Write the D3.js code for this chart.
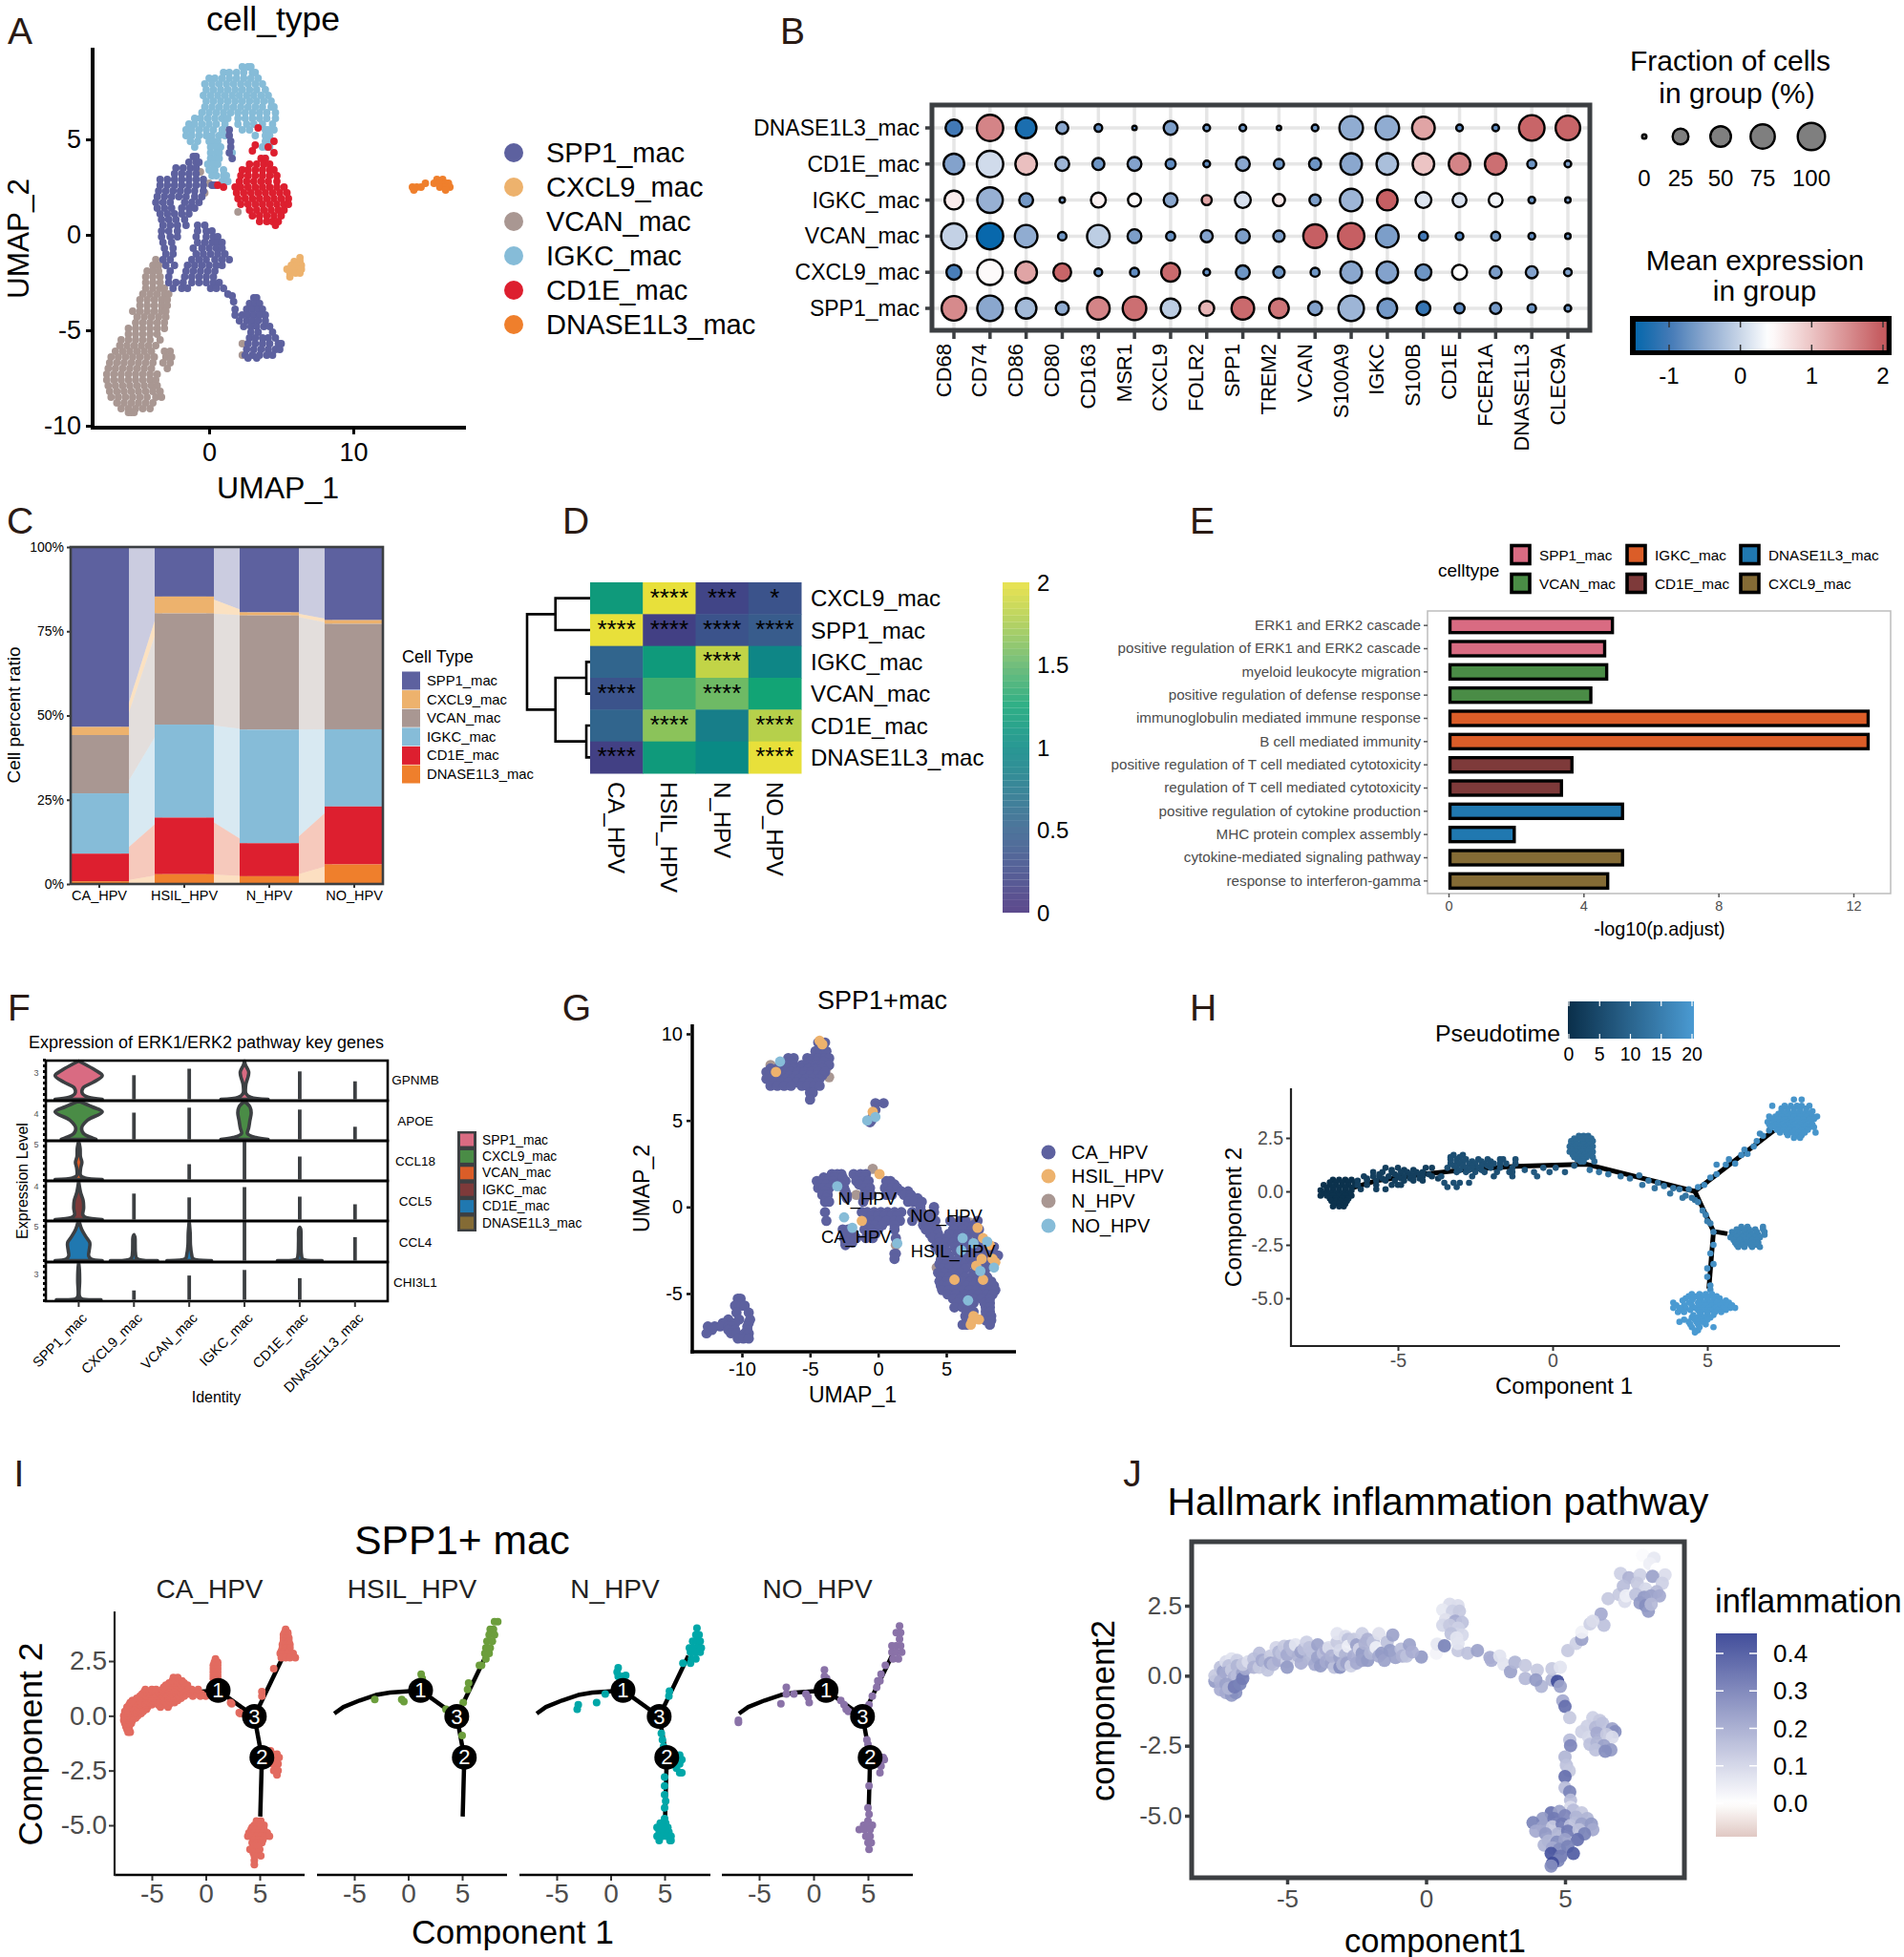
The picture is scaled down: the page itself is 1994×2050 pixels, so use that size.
<!DOCTYPE html>
<html><head><meta charset="utf-8">
<script src="https://cdn.jsdelivr.net/npm/d3@7"></script>
<style>html,body{margin:0;padding:0;background:#fff}svg{display:block}text{font-family:"Liberation Sans",Arial,sans-serif}</style>
</head><body><svg id="c" width="1994" height="2050" viewBox="0 0 1994 2050"></svg>
<script>
// ===== shared categories =====
const macTypes=["SPP1_mac","CXCL9_mac","VCAN_mac","IGKC_mac","CD1E_mac","DNASE1L3_mac"];
const macColors=["#5d619f","#edb26d","#a99792","#86bcd8","#dd1f2f","#ef7f2c"];
const flowColors=["#5d619f","#f2a23e","#a99792","#86bcd8","#e4562f","#f59a3e"];
const hpvGroups=["CA_HPV","HSIL_HPV","N_HPV","NO_HPV"];
// ===== panel A: rows are [UMAP_2, UMAP_1, UMAP_1, ...] =====
const aVCAN=[[-1.3,-3.7],[-1.6,-3.9,-3.5],[-1.9,-4.3,-3.9,-3.5],[-2.2,-4.4,-3.9,-3.4],[-2.5,-4.4,-3.9,-3.4],[-2.8,-4.4,-3.9,-3.4,-3.1],[-3.1,-4.6,-4.1,-3.6,-3.1,-2.8],[-3.4,-4.8,-4.3,-3.8,-3.3,-2.9],[-3.7,-4.8,-4.3,-3.8,-3.3,-2.9],[-4,-5.3,-4.8,-4.3,-3.8,-3.3,-3],[-4.3,-5,-4.5,-4,-3.5,-3],[-4.6,-5.1,-4.6,-4.1,-3.6,-3.1],[-4.9,-5.6,-5.1,-4.6,-4.1,-3.6,-3.1],[-5.2,-5.6,-5.1,-4.6,-4.1,-3.6],[-5.5,-6.1,-5.6,-5.1,-4.6,-4.1,-3.4],[-5.8,-6.2,-5.7,-5.2,-4.7,-4.2,-3.7],[-6.1,-6.5,-6,-5.5,-5,-4.5,-4,-3.1,-2.7],[-6.4,-6.8,-6.3,-5.8,-5.3,-4.8,-4.3,-3.8,-3,-2.6],[-6.7,-6.9,-6.4,-5.9,-5.4,-4.9,-4.4,-3.9,-3.2,-2.7],[-7,-7,-6.5,-6,-5.5,-5,-4.5,-4,-2.9],[-7.3,-7.1,-6.6,-6.1,-5.6,-5.1,-4.6,-4.1,-3.6],[-7.6,-7.1,-6.6,-6.1,-5.6,-5.1,-4.6,-4.1,-3.7],[-7.9,-7,-6.5,-6,-5.5,-5,-4.5,-4,-3.6],[-8.2,-6.9,-6.4,-5.9,-5.4,-4.9,-4.4,-3.9,-3.4],[-8.5,-6.8,-6.3,-5.8,-5.3,-4.8,-4.3,-3.7,-3.3],[-8.8,-6.4,-5.9,-5.4,-4.9,-4.4,-3.9],[-9.1,-6.1,-5.6,-5.1,-4.6,-4.1],[-9.3,-5.6,-5.4,-5.2],[2.2,-.3],[2.7,0],[3.3,-.6],[1.2,2],[-5.7,2.3],[-6.3,2.3]];
const aIGKC=[[8.8,2.3,2.7,2.9],[8.5,1,1.4,1.9,2.4,3,3.2],[8.2,0,.4,.9,1.4,1.9,2.4,2.9,3.4],[7.9,-.3,.2,.7,1.2,1.7,2.2,2.7,3.2,3.7],[7.6,-.2,.3,.8,1.3,1.8,2.3,2.8,3.3,3.9],[7.3,-.4,.1,.6,1.1,1.6,2.1,2.6,3.1,3.6,4.1],[7,-.2,.3,.8,1.3,1.8,2.3,2.8,3.3,3.8,4.3],[6.7,-.3,.2,.7,1.2,1.7,2.2,2.7,3.2,3.7,4.3,4.5],[6.4,-.5,0,.5,1,1.5,2,2.5,3,3.5,4,4.6],[6.1,-1,-.6,-.1,.4,.9,1.3,2,2.5,3,3.5,4,4.6],[5.8,-1.4,-1,-.5,0,.5,1.1,2,2.6,3.1,3.7,4.4],[5.5,-1.6,-1.2,-.7,-.2,.3,.9,2.3,2.8,3.9,4.1,4.5],[5.2,-1.6,-1.2,-.7,-.2,.2,.7,1.1,3.2,3.9,4.2],[4.9,-1.3,-.8,0,.3,.6,3.9,4.2],[4.6,-1,.1,.5,.8,3.7,4,4.2],[4.3,.1,.5,.7,1.6],[4,.1,.4,.7,3.9],[3.7,-.1,.3,.6],[3.4,0,.4,1],[3.1,.2,.5,1,1.2],[2.8,.9,1.2,1.3]];
const aSPP1=[[5.5,1.4],[5.2,1.4],[4.9,1.5],[4.6,1.5],[4.3,1.4],[4,1.6],[4.1,-1.1,-.9],[3.8,-1.4,-.9,-.7],[3.5,-2.3,-1.8,-1.3,-.9],[3.2,-2.4,-1.9,-1.4,-.9],[2.9,-3.4,-2.9,-2.4,-1.9,-1.4,-.9,-.4],[2.6,-3.4,-2.9,-2.4,-1.9,-1.4,-.9,-.4,.2,.4],[2.3,-3.5,-3,-2.5,-2,-1.5,-1,-.4],[2,-3.6,-3.1,-2.6,-2.1,-1.6,-1,-.5],[1.7,-3.7,-3.2,-2.7,-1.7,-1.2,-.7],[1.4,-3.6,-3.1,-2.6,-1.9,-1.4,-1],[1.1,-3.4,-2.9,-2.4,-1.9,-1.4],[.8,-3.3,-2.8,-2.3,-1.7],[.5,-3.2,-2.7,-2.2,-1.6,-.8,-.3],[.2,-3.3,-2.8,-2.2,-.8,-.2,.2],[-.1,-3.3,-2.7,-2.2,-.9,-.2,.3,.6],[-.4,-3.2,-2.6,-.8,-.3,.2,.6,.9],[-.7,-3.1,-2.5,-1.1,-.5,0,.5,.9],[-1,-3,-2.5,-.9,-.4,.1,.6,1.1],[-1.3,-3.2,-2.7,-1.2,-.7,-.2,.4,.9,1.4],[-1.6,-3,-2.4,-1.5,-1,-.5,0,.5,.9],[-1.9,-2.7,-1.6,-1.1,-.6,-.1,.4],[-2.2,-2.8,-1.7,-1.2,-.7,-.2,.3],[-2.5,-2.8,-2.3,-1.8,-1.2,-.7,-.2,.3,.7],[-2.8,-2.5,-1.9,-1.5,.1,.5,1],[-3.1,1.3],[-3.2,1.6],[-3.5,1.7],[-3.3,3.1,3.3],[-3.6,2.8,3.2,3.5],[-3.9,1.8,2.6,3,3.4,3.7],[-4.2,1.8,2.3,2.7,3.1,3.5,3.9],[-4.5,2.1,2.6,3,3.4,3.9],[-4.8,2.4,2.9,3.3,3.8,4.2],[-5.1,2.9,3.4,4.4],[-5.4,2.8,3.2,3.7,4.1,4.6],[-5.7,2.7,3.2,3.7,4.2,4.8,5],[-6,2.6,3.1,3.6,4.1,4.6,4.9],[-6.3,2.5,3,3.5,4,4.4],[-6.45,2.7,3.3]];
const aCD1E=[[4,3.6,3.9],[3.7,2.8,3.3,3.8,4.2],[3.4,2.3,2.7,3.2,3.7,4.2,4.5],[3.1,2.2,2.7,3.2,3.7,4.2,4.7],[2.8,2.1,2.6,3.1,3.6,4.1,4.7],[2.5,1.8,2.2,2.7,3.2,3.7,4.2,4.7,5.2],[2.2,1.9,2.4,2.9,3.4,3.9,4.4,4.9,5.4],[1.9,2,2.5,3,3.5,4,4.5,5,5.5],[1.6,2.2,2.7,3.2,3.7,4.2,4.7,5.2,5.5],[1.3,2.8,3.3,3.8,4.3,4.8,5.2],[1,3,3.5,4,4.5,5],[.7,3.5,4,4.4,4.8],[.5,4.6],[2.5,1],[2.6,.6],[5.6,3.4],[4.4,3],[4.7,3.2],[4.9,4.5],[4.3,4.5],[4.6,4.1]];
const aCXCL9=[[-1.2,6.3],[-1.4,5.9,6.3],[-1.6,5.7,6.1,6.4],[-1.8,5.4,5.8,6.2,6.4],[-2,5.6,6,6.3],[-2.2,5.6]];
const aDNASE=[[2.9,15.8,16.2],[2.7,15,15.6,16,16.4,16.6],[2.5,14.1,14.4,14.7,16,16.4,16.7],[2.35,14.2,16.4]];
// ===== panel B =====
const bGenes=["CD68","CD74","CD86","CD80","CD163","MSR1","CXCL9","FOLR2","SPP1","TREM2","VCAN","S100A9","IGKC","S100B","CD1E","FCER1A","DNASE1L3","CLEC9A"];
const bRows=["DNASE1L3_mac","CD1E_mac","IGKC_mac","VCAN_mac","CXCL9_mac","SPP1_mac"];
const bFraction=[
[29,92,50,11,2,0,17,1,1,0,1,70,70,63,1,1,85,77],
[50,92,56,17,11,17,6,1,17,6,11,56,56,56,56,56,4,1],
[39,85,17,.2,21,14,17,6,25,11,9,63,50,25,17,17,1,.2],
[85,92,63,3,63,17,4,11,17,9,70,92,63,4,2,4,1,.2],
[21,85,56,34,2,4,39,1,17,9,4,56,56,25,21,11,11,2],
[77,85,50,14,63,70,44,21,63,44,17,85,44,17,6,9,3,1]];
const bExpr=[
[-1,1.6,-1.3,-.5,-.8,-.8,-.6,-.7,-.7,-.7,-.7,-.45,-.45,1.3,-.8,-.8,1.9,1.9],
[-.55,.05,1.05,-.35,-.7,-.55,-.8,-.8,-.5,-.7,-.7,-.5,-.25,1,1.6,1.8,-.7,-.6],
[.6,-.4,-.65,-.6,.55,.45,-.5,1.3,.1,.65,-.6,-.35,1.95,.15,.1,.3,-.7,-.6],
[-.05,-1.45,-.45,-.7,-.1,-.6,-.75,-.55,-.6,-.6,1.95,1.95,-.6,-1,-.9,-.7,-.8,-.7],
[-.95,.45,1.3,1.9,-.8,-.8,1.85,-.8,-.7,-.7,-.7,-.5,-.55,-.7,.4,-.6,-.55,-.6],
[1.55,-.5,-.3,-.45,1.6,1.8,-.1,1.15,1.85,1.75,-.55,-.35,-.65,-1.1,-.8,-.65,-.7,-.7]];
const bSizeLegend=[0,25,50,75,100];
const bColorTicks=[-1,0,1,2];
// ===== panel C =====
const cShares=[[53.4,14.7,19.4,21.7],[2.4,5,.9,1.1],[17.3,33,33.9,31.3],[17.9,27.6,33.7,22.9],[8.2,16.8,9.8,17.2],[.8,2.9,2.3,5.8]];
// ===== panel D =====
const dRows=["CXCL9_mac","SPP1_mac","IGKC_mac","VCAN_mac","CD1E_mac","DNASE1L3_mac"];
const dValues=[[1.15,2,.2,.35],[2,.15,.35,.45],[.55,1.15,1.85,.95],[.35,1.4,1.55,1.25],[.55,1.65,.85,1.8],[.15,1.15,1,2]];
const dStars=[["","****","***","*"],["****","****","****","****"],["","","****",""],["****","","****",""],["","****","","****"],["****","","","****"]];
const dTree=[1,[.55,0,1],[.55,[.06,2,3],[.06,4,5]]];
const dTicks=[0,.5,1,1.5,2];
// ===== panel E =====
const eTerms=["ERK1 and ERK2 cascade","positive regulation of ERK1 and ERK2 cascade","myeloid leukocyte migration","positive regulation of defense response","immunoglobulin mediated immune response","B cell mediated immunity","positive regulation of T cell mediated cytotoxicity","regulation of T cell mediated cytotoxicity","positive regulation of cytokine production","MHC protein complex assembly","cytokine-mediated signaling pathway","response to interferon-gamma"];
const eValues=[4.9,4.67,4.73,4.26,12.48,12.48,3.7,3.39,5.2,1.99,5.2,4.76];
const eGroup=["SPP1_mac","SPP1_mac","VCAN_mac","VCAN_mac","IGKC_mac","IGKC_mac","CD1E_mac","CD1E_mac","DNASE1L3_mac","DNASE1L3_mac","CXCL9_mac","CXCL9_mac"];
const eLegendOrder=["SPP1_mac","VCAN_mac","IGKC_mac","CD1E_mac","DNASE1L3_mac","CXCL9_mac"];
const eColors={SPP1_mac:"#d96b82",VCAN_mac:"#4a8c46",IGKC_mac:"#db5d28",CD1E_mac:"#7e3a3a",DNASE1L3_mac:"#2078b0",CXCL9_mac:"#846b35"};
// ===== panel F: number = line height, array = violin profile [height, half width], null = empty =====
const fGenes=["GPNMB","APOE","CCL18","CCL5","CCL4","CHI3L1"];
const fTickLabels=["3","4","5","4","5","3"];
const fColors=["#d96b82","#4a8c46","#db5d28","#7e3a3a","#2078b0","#846b35"];
const fGPNMB=[[[0,.95],[.05,.4],[.15,.15],[.3,.18],[.45,.6],[.62,.95],[.75,.7],[.9,.3],[1,0]],.63,.8,[[0,.95],[.05,.25],[.15,.06],[.4,.06],[.6,.15],[.72,.17],[.9,.04],[1,0]],.73,.47];
const fAPOE=[[[0,.7],[.05,.5],[.15,.2],[.3,.12],[.5,.35],[.72,.95],[.85,.55],[1,0]],.7,.83,[[0,.95],[.05,.45],[.15,.12],[.3,.17],[.5,.22],[.7,.27],[.85,.22],[1,0]],.78,.33];
const fCCL18=[[[0,.95],[.04,.25],[.1,.08],[.3,.08],[.45,.13],[.6,.07],[.8,.06],[.95,.02]],null,.4,1,.6,null];
const fCCL5=[[[0,.95],[.05,.3],[.12,.17],[.3,.2],[.5,.18],[.7,.08],[1,0]],.68,.58,.85,.6,.4];
const fCCL4=[[[0,.95],[.04,.5],[.12,.4],[.25,.42],[.45,.45],[.6,.3],[.8,.12],[1,.02]],[[0,.95],[.05,.12],[.2,.06],[.4,.05],[.6,.04],[.66,0]],[[0,.9],[.05,.15],[.15,.1],[.4,.05],[.7,.04],[1,0]],1,[[0,.9],[.04,.12],[.15,.07],[.5,.05],[.8,.04],[.85,0]],.6];
const fCHI3L1=[[[0,.9],[.03,.1],[.1,.03],[.5,.04],[.8,.03],[1,0]],.25,.65,.8,.58,null];
// ===== panel G =====
const gColors=["#5d619f","#edb26d","#a99792","#86bcd8"];
const gCA=[[9.5,-4.4,-4.1,-3.9],[9,-4.6,-4.2,-3.8],[8.6,-6.6,-6.2,-5.2,-4.8,-4.4,-3.9,-3.6],[8.4,-6.4,-5,-4.5,-4],[8.2,-7,-6.6,-6.2,-5.6,-5.1,-4.6,-4.1,-3.6],[8,-7.9,-7.4,-6.7,-6.2,-5.6,-5.1,-4.6,-4.1],[7.8,-8.2,-7.7,-6.9,-6.4,-5.9,-5.4,-4.9,-4.4,-3.9],[7.6,-8,-7.5,-7,-6.5,-6,-5.5,-5,-4.5,-4.1],[7.4,-8.2,-7.8,-7.3,-6.8,-6.3,-5.8,-5.3,-4.8,-4.3],[7.2,-7.7,-7.1,-6.6,-6,-5.5,-5,-4.5],[7,-7.9,-7.4,-6.9,-6.4,-5.6,-5.2,-4.7,-4.3],[6.6,-5,-4.8],[6.2,-5],[6,-.2,.4],[5.6,-.2],[5.2,-.4],[5,-.5],[4.9,-.6],
[1.9,-3.4,-3,-2.7,-1.8,-1.3,-.9],[1.7,-4,-3.6,-3.2,-2.6,-1.4,-1],[1.5,-4.5,-4.1,-3.7,-3.3,-2.4,-1.6,-1.1,-.7,.6,.9],[1.3,-4.2,-3.8,-3.3,-2.7,-1.4,-.8,.7,1.2],[1.1,-4.4,-4,-3.6,-2.5,-1,-.6,.5,1,1.4],[.9,-3.9,-2.4,-.8,.8,1.7,2.2],[.7,-4.1,-3.7,-2.3,-1,-.5,.6,1,1.9,2.4],[.5,-3.8,-2.3,-1,2.4,2.9],[.3,-3.9,-3.6,-1.1,2.2,2.6,3.2],[0,3.1,4.1],[-.3,-3.9,-1.2,-.8,-.3,.2,.7,1.2,1.7,2.5,3.2,4.1],[-.5,-1,-.5,0,.5,1,1.4,2.9,3.6],[-.8,-3.8,-1,-.5,0,.6,1.2,1.6,2.5,3.3,4.2,5.3,6,6.4,7.3],[-1.05,-.7,-.2,.3,1.2,3.3,3.9,5.6,6.3,7],[-1.3,-2.6,-2.2,-1,-.5,0,1.2,3.5,4.3,5.5,6.2,6.9,7.4],[-1.55,-2.4,-1.8,-.7,-.2,3.8,4.4,5.2,5.9,6.6,7.2],[-1.8,-2.5,-2,-1.6,-.9,-.4,1.3,4,4.5,5,5.8,6.5],[-2.05,-2.4,-1.9,4.5,5,5.5,6.1,6.7,7.4,8],[-2.2,-2.4],[-2.7,1.2,1.3],[-3,1.2],
[-2.3,4.2,4.8,5.6,6.3,7.1,7.8,8.5],[-2.55,4.5,5,5.8,6.4,7,7.6,8.4],[-2.8,4.7,5.2,6,6.5,7.2,8.1,8.8],[-3.05,4.6,5.2,5.8,6.7,8.2],[-3.3,4.5,5,5.5,6.2,7,7.7,8.4],[-3.55,4.7,5.2,5.8,6.4,7.2,7.9],[-3.8,4.4,4.9,5.5,6,7,7.8],[-4.05,4.6,5.2,5.7,6.4,7,7.5,8],[-4.3,4.5,5,5.5,6.2,6.8,7.2,7.8,8.3],[-4.55,4.6,5.1,5.8,6.5,7,7.5,8,8.5],[-4.8,4.7,5.2,6.2,6.7,7.2,7.7,8.2,8.6],[-5.05,5.1,5.7,6.4,6.9,7.4,8,8.4],[-5.3,5.5,6,6.5,7,7.6,8.2],[-5.55,5.8,6.4,7,7.8,8.2],[-5.8,5.6,6.2,6.6,7.9,8.2],[-6.05,6.5,7,7.9,8.2],[-6.3,6.4,6.8,7.9,8.3],[-6.55,6.5,7.9,8.3],[-6.8,6.2,6.5,8.2],
[-5.3,-10.3,-10.1],[-5.5,-10.2],[-5.7,-10.5,-10,-9.8],[-6.1,-10.4,-9.5],[-6.5,-11,-10.2,-9.4],[-6.7,-11.4,-10.5,-9.5],[-6.9,-12.5,-12,-11.6,-11,-10.7,-9.6],[-7.1,-12.2,-11,-10.5,-9.6],[-7.3,-12.6,-10.8,-10.4,-9.8,-9.5],[-7.6,-10.3,-9.9,-9.5]];
const gHSIL=[[9.6,-4.3],[9.4,-4.1],[7.8,-7.5],[5.5,-.4],[1.9,.1],[-.8,-1.2],[-1.2,7.3],[-1.8,7.7],[-2.2,8.2],[-3,8.4,7.6],[-3.4,7.2],[-3.2,8.6],[-4.2,5.6,7.7],[-6.6,6.9],[-6.3,7],[-6.8,6.8],[-6.5,7.4]];
const gN=[[8,-3.8,-6.2],[7.5,-3.6],[8.2,-7.9],[2.2,-.4],[.8,-2.5],[.7,-1.6],[-.9,6.7],[-1.9,7],[-.8,-.5],[-1.7,-.4],[-2.2,1.3],[-1.8,5.2],[-3.5,4.3]];
const gNO=[[8.4,-7.2],[5,-.8],[5.2,-.2],[1.2,-3],[-.6,-2.5],[-1.2,-1.9],[-2.1,1.4],[-1.8,6.2],[-2.1,7],[-2,8],[-3.5,8.5],[-3.7,7.5],[-5.4,6.6],[-2.5,6.1]];
const gLabels=[["N_HPV",-.8,.48],["NO_HPV",5,-.5],["CA_HPV",-1.6,-1.7],["HSIL_HPV",5.5,-2.55]];
// ===== panel H =====
const hBlobLeft=[[.55,-7.1,-6.9,-6.7,-6.5],[.42,-7.2,-7,-6.8,-6.6,-6.4],[.3,-7.4,-7.2,-7,-6.8,-6.6,-6.35],[.18,-7.3,-7.1,-6.9,-6.7,-6.5],[.05,-7.5,-7.3,-7.1,-6.9,-6.7,-6.5],[-.08,-7.4,-7.2,-7,-6.8,-6.6],[-.2,-7.5,-7.3,-7.1,-6.9,-6.7,-6.5],[-.33,-7.2,-7,-6.8,-6.6],[-.45,-7.15,-7,-6.85,-6.65],[-.58,-7.05,-6.9,-6.7],[-.7,-7.1,-6.9,-6.75]];
const hTrailA=[[1.1,-5.4,-5,-4.1,-3.9],[1,-5.2,-4.8,-4.5],[.9,-5.8,-5.5,-5.2,-4.9,-4.7,-4.4,-4.2],[.8,-5.6,-5.1,-4.6,-4.3,-4],[.7,-6.1,-5.8,-5.6,-5.3,-5,-4.8,-4.5,-4.2,-3.9],[.6,-6,-5.5,-4.9,-4.6,-4.3,-3.7],[.5,-6.3,-6,-5.7,-5.4,-5.1,-4.8,-4.5,-4.2],[.3,-6.3,-6,-5.7,-5.2,-5,-4.9],[.1,-6.2,-5.7,-5.4]];
const hTrailB=[[1.7,-3.2,-2.9],[1.6,-3.3,-3],[1.5,-3.3,-3.1,-2.8,-2.4,-2.1,-1.7,-1.6,-1.2],[1.4,-3.1,-2.9,-2.6,-2.3,-2],[1.3,-3.3,-3,-2.7,-2.5,-2.2,-1.9,-1.7,-1.5,-1.2],[1.2,-3.2,-2.9,-2.6,-2.3,-2.1],[1.1,-3.4,-3.1,-2.8,-2.6,-2.4,-2,-1.7,-1.3],[1,-3,-2.7,-2.3],[.9,-3.1,-2.8,-2.5,-2.2,-1.8,-1.4,-1.3],[.7,-3.6,-2.6,-1.9,-1.3],[.4,-3.5,-3.2,-3,-2.7],[.2,-3.4,-3.1]];
const hTrailC=[[1,-.9],[.9,-.6,-.1,.4],[.7,-.5],[1.1,-.3,.1],[1.2,.7]];
const hBlobTop=[[2.6,.85,1,1.15],[2.48,.7,.9,1.1,1.25],[2.35,.6,.75,.95,1.15,1.3],[2.22,.6,.8,1,1.2],[2.1,.55,.7,.9,1.1,1.3],[1.98,.6,.8,1,1.2],[1.85,.55,.75,.95,1.15,1.3],[1.72,.65,.85,1.05,1.25],[1.6,.7,.9,1.1,1.3],[1.5,.8,1],[1.4,.9,1,1.35]];
const hMid=[[1,1.2],[.9,1.5],[.8,1.8],[.7,2.2],[.6,2.5],[.75,2.8],[.3,2.9],[.5,3.1],[.4,3.4],[.15,3.3,3.9],[.25,3.6],[-.1,3.8],[.1,4.1,4.4],[-.3,4.2,4.5],[-.2,4.3],[-.4,4.6]];
const hArm=[[.2,4.7],[.3,4.9],[.65,5.1],[.8,5.3],[1.25,5.3,5.6],[1.5,5.7],[1.3,5.9],[1.7,6.1],[1.95,6.2],[1.75,6.3],[2.1,6.5],[2.35,6.6],[2.6,6.8],[2.7,6.7],[2.85,7]];
const hBlobRight=[[4.3,7.8,8.05],[4,7.1,7.5,7.7,7.9,8.05,8.3],[3.88,7.4,7.6,7.8,8,8.2],[3.75,7.4,7.6,7.8,8,8.2,8.4],[3.62,7.3,7.5,7.7,7.9,8.1,8.3],[3.5,7,7.2,7.4,7.6,7.8,8,8.2,8.4,8.55],[3.38,7.1,7.3,7.5,7.7,7.9,8.1,8.3,8.45],[3.25,6.95,7.15,7.35,7.55,7.75,7.95,8.15,8.35],[3.12,7,7.2,7.4,7.6,7.8,8,8.2,8.4],[3,7.1,7.3,7.5,7.7,7.9,8.1,8.3,8.45],[2.88,7.25,7.45,7.65,7.85,8.05,8.25],[2.75,7.35,7.55,7.75,7.95,8.15,8.5],[2.62,7.6,7.85,8.05],[2.5,7.8,8]];
const hDown=[[-.5,4.7],[-.9,4.85],[-1.1,4.95],[-1.4,5],[-1.5,5.1],[-1.9,5.2]];
const hBlobMid=[[-1.65,6.1,6.3,6.8],[-1.78,5.95,6.15,6.35,6.55,6.8],[-1.9,5.8,6,6.2,6.4,6.6,6.85],[-2.03,5.85,6.05,6.25,6.45,6.65,6.85],[-2.15,5.75,5.95,6.15,6.35,6.55,6.7],[-2.28,5.85,6.05,6.25,6.45,6.6],[-2.4,5.9,6.1,6.3,6.5,6.65],[-2.5,5.95,6.15,6.4,6.6],[-2.6,6,6.2,6.45,6.7]];
const hLow=[[-2.5,5.2],[-2.9,5.1],[-3.4,5.2],[-3.6,5],[-4,5],[-4.4,5.1],[-4.6,5.1]];
const hBlobBottom=[[-4.8,4.5,4.75,4.95,5.15],[-4.9,4.4,4.65,4.85,5.05,5.3],[-5,4.3,4.55,4.75,5,5.2,5.4],[-5.1,4.2,4.5,4.8,5,5.2,5.4,5.6],[-5.2,3.9,4.4,4.7,4.9,5.1,5.3,5.5,5.7],[-5.33,4,4.25,4.5,4.75,4.95,5.15,5.4,5.6,5.8],[-5.45,3.9,4.1,4.3,4.6,4.85,5.05,5.25,5.5,5.75,5.9],[-5.55,4.15,4.45,4.7,4.9,5.1,5.35,5.6],[-5.65,4.05,4.25,4.75,5,5.25,5.45],[-5.78,4.55,4.8,5,5.2],[-5.9,4.5,4.7,4.9,5.1],[-6,4.25,4.6,4.8,5],[-6.1,4.1,4.4,4.65,4.85],[-6.22,4.45,4.7,4.95],[-6.35,4.5,4.75,5.2],[-6.5,4.6,4.7],[-6.6,4.6]];
const hPseudotime=[.5,3,6,8,11,13,17,19,15,16,18,20];
const hTreeMain=[[-6.5,.15],[-5.7,.5],[-4.2,.8],[-2.9,1],[-1.2,1.17],[1.1,1.27],[4.6,0]];
const hTreeUp=[[4.6,0],[7.15,2.85]];
const hTreeDown=[[4.6,0],[5.2,-1.87],[5.65,-1.98]];
const hTreeLow=[[5.2,-1.87],[5.05,-4.55]];
const hLegendTicks=[0,5,10,15,20];
// ===== panel I =====
const iColors=["#e26b60","#6c9e3c","#00a7a8","#8a72a8"];
const iCA=[[-.75,-7.2,-7],[-.62,-7.3,-7.1],[-.5,-7.4,-7.1],[-.35,-7.5,-7.2,-6.9],[-.2,-7.6,-7.2,-6.8],[-.1,-7.4,-7,-6.5],[0,-7.6,-7.2,-6.7,-6.3],[.1,-7.4,-6.9,-6.4,-6],[.2,-7.5,-7.1,-6.6,-6.1,-5.8],[.3,-7.3,-6.5,-6,-5.5],[.4,-7.3,-6.9,-6.3,-5.8,-5.4,-4.2,-3.5],[.5,-7.1,-6.1,-5.5,-5,-4.4,-3.9,-3.4],[.6,-7,-6.6,-6,-5.6,-5.2,-4.6,-3.7,-3.2,-2.9],[.7,-6.8,-6.2,-5.5,-4.9,-4.4,-3.9,-3.4,-3,-2.6],[.8,-6.4,-5.9,-5.3,-4.8,-4.3,-3.8,-3.3,-2.8,-2.3],[.9,-6.1,-5.5,-5,-4.5,-4,-3.5,-3,-2.5,-2,-1.2,-.5,0],[1,-5.9,-5.2,-4.8,-4.2,-3.7,-3.2,-2.7,-2.2,-1.7,-.8,-.4],[1.1,-5.7,-5.1,-4.4,-3.9,-3.4,-2.9,-2.4,-1.9,-1.5],[1.2,-5.6,-5,-4.6,-4,-3.5,-3,-2.5,-2,-1.3,-.7],[1.3,-3.9,-3.4,-2.9,-2.4,-1.8],[1.4,-3.7,-3.2,-2.7,-2.2,-1.7],[1.5,-3.4,-2.9,-2.4,-2],[1.6,-3.1,-2.7,-2.2],[1.75,-3,-2.6],[2.6,.9],[2.45,.8,1.1],[2.3,.7,1.1],[2.15,.7,1.1],[2,.7,1.1],[1.85,.7,1.1],[1.7,.7,1.1],[1.5,.7],[.6,2.3],[.55,2.4],[.15,3.1],[.1,3.2],[1.1,5.2],[.9,5.2],[2.15,6.3],[3.95,7.4],[3.8,7.3,7.6],[3.7,7.2,7.6],[3.55,7.2,7.7],[3.4,7.2,7.7],[3.25,7.1,7.4,7.8],[3.1,7.1,7.4,7.8],[2.95,7,7.3,7.7],[2.85,6.9,7.2,7.6,8.1],[2.65,7,7.4,7.8,8.3],[-1.6,6],[-1.75,6.2,6.6],[-1.9,6.4,6.8],[-2.05,6.3,6.6],[-2.2,6.2,6.5,6.7],[-2.5,6.3,6.7],[-2.7,6.6],[-4.8,4.7,5.1],[-5,4.5,5,5.4],[-5.1,4.3,4.8,5.2],[-5.2,4.2,4.6,5,5.4],[-5.35,4,4.5,4.9,5.3,5.7],[-5.5,3.9,4.3,4.7,5.1,5.5,5.9],[-5.65,4.5,4.9,5.3],[-5.8,4.3,4.7,5.2],[-6.1,4.1,4.6,5],[-5.95,4.4,4.8],[-6.25,4.4,4.8],[-6.4,4.5,5.1],[-6.6,4.5],[-6.8,4.5]];
const iHSIL=[[4.3,8,8.3],[3.95,7.6,7.9],[3.7,7.5,8],[3.4,7.3,7.8],[3.1,7.2,7.6],[2.85,7.1,7.5],[2.6,7.2],[2.3,6.6,6.8],[1.5,5.6],[1.2,5.5],[.6,5.1],[1.9,1.2],[1.7,1.3],[.75,-3.1,-.6],[.65,-.4],[.3,3.5],[-.9,5]];
const iN=[[4,8],[3.7,7.9,8.2],[3.4,7.6,8,8.3],[3.1,7.3,7.7,8.1,8.4],[2.9,7.4,7.9,8.3],[2.6,7.5,7.9],[2.4,6.7,7.4],[1.13,5.45],[.9,5.4],[2.2,.7],[2,.6],[1.8,.7,1.1],[1.85,1.4],[1.65,.9],[.5,-3],[.3,-3.1],[.6,-1.3],[1,-.5],[-.8,4.7],[-1.1,4.8],[-1.4,4.9],[-1.8,6.4],[-2,6.6],[-2.2,6.4],[-2.4,6.1],[-2.6,6.4,6.6],[-2.8,5],[-3.2,5],[-3.6,5],[-4.2,5],[-3.9,5.1],[-4.7,5],[-4.9,4.6,5.1],[-5.1,4.3,4.8,5.3],[-5.3,4.5,5,5.4],[-5.5,4.3,4.8,5.2,5.6],[-5.7,4.5,5.5,5.6]];
const iNO=[[4.1,7.9],[3.8,7.6,8],[3.5,7.9],[3.2,7.2,7.6,8],[2.9,7.2,7.6,8.1],[2.6,7.3,7.8],[2.3,6.6],[1.9,6.2],[1.6,5.9,6.1],[1.3,5.8],[.9,5.4],[.5,5.1],[2.1,1],[1.8,1],[1.7,1.2],[-.3,-6.9],[-.2,-6.9],[.55,-3],[1.3,-2.5],[1,-2.5,-1.8,-.7],[.85,-.5],[.6,-.4],[.7,2.5],[.5,2.8],[.3,3],[.2,3.2],[-1.1,4.9],[-1.3,5],[-1.9,6.4],[-2,6.5],[-2.3,6.2],[-2.6,6.1],[-3.2,5.1],[-4.2,5],[-4.5,5.1],[-4.8,5],[-5,4.6,5,5.4],[-5.2,4.2,4.7,5.2],[-5.5,4.8,5.2],[-5.8,5,5.3],[-6.1,5.1]];
const iTreeArc=[[-6.85,.1],[-6,.4],[-4.5,.7],[-3,.95],[-1.7,1.06],[1.15,1.16]];
const iTreeMid=[[1.15,1.16],[4.5,-.03],[5.2,-1.9],[5.05,-4.6]];
const iTreeUp=[[4.5,-.03],[7.2,2.74]];
const iNodes=[[1,1.15,1.16],[3,4.5,-.03],[2,5.2,-1.9]];
// ===== panel J: flat triples x, y, inflammation =====
const jLeft=[-7.6,-.2,.22,-7.6,0,.1,-7.4,.3,.12,-7.3,.15,.2,-7.2,.5,.05,-7,.6,.03,-7.1,.35,.12,-6.8,.55,.08,-7.4,-.2,.16,-7.2,.1,.18,-7,.2,.1,-6.8,.35,.15,-7.4,-.5,.17,-7,-.2,.08,-6.9,-.05,.16,-6.8,0,.13,-6.6,.1,.2,-7.2,-.3,.2,-7.2,-.6,.18,-7,-.7,.22,-6.85,-.6,.25,-7.1,-.45,.15,-6.9,-.4,.3,-6.7,-.3,.28,-6.6,-.1,.3,-6.5,.25,.18,-6.6,.4,.1];
const jTrail=[-6.4,.5,.05,-6.2,.6,.12,-6.2,.3,.16,-6,.3,.1,-6,.8,.13,-5.9,.55,.18,-5.8,.5,.15,-5.7,.2,.11,-5.6,.7,.1,-5.6,.45,.2,-5.4,1,.07,-5.5,.4,.14,-5.3,.55,.17,-5.3,.85,.15,-5.2,.8,.12,-5.1,1.05,.1,-5,.5,.08,-5,.75,.18,-5,.3,.22,-4.9,1.05,.15,-4.8,.9,.14,-4.7,1.1,.03,-4.6,.7,.16,-4.5,.45,.17,-4.5,.85,.2,-4.4,.95,.13,-4.3,1.2,.08,-4.2,1,.12,-4.2,.6,.15,-4.1,.85,.12,-4,.4,.18,-3.9,.65,.2,-3.9,1.1,.2,-3.8,.35,.22,-3.7,.8,.13,-3.6,.95,.17,-3.6,.5,.18,-3.5,1,.05,-3.4,.45,.2,-3.3,.3,.12,-3.4,.7,.16,-3.2,1.2,.1,-3.1,.3,.25,-3.1,.65,.2,-3.1,.9,.06,-3,.4,.15,-3.2,1.5,.03,-2.9,.75,.15,-2.9,1.4,.05,-2.85,.45,.2,-2.8,1.3,.12,-2.8,1.05,0,-2.7,.35,.08,-2.6,.7,.17,-2.6,1.3,.1,-2.5,.45,.18,-2.5,1.1,.2,-2.4,.95,.07,-2.3,.8,.22,-2.3,.55,.2,-2.3,1.5,.08,-2.2,1.15,.16,-2.1,.55,.22,-2.1,1.3,.16,-2,.8,.15,-1.9,1.2,.12,-1.8,1,0,-1.7,.7,.18,-1.7,1.5,.04,-1.6,.8,.22,-1.5,.55,.2,-1.4,1.2,.12,-1.3,.9,.22,-1.2,1.45,.2,-1.1,.65,.2,-.9,.95,.13,-.85,.7,.16,-.7,.7,.12,-.6,1.1,.2,-.17,.67,.22,-.5,.85,.17,.37,.8,-.01,.4,1.13,.02,.66,1.07,.28];
const jTop=[.85,2.55,.05,1.15,2.5,.05,.6,2.35,.02,.95,2.3,.08,1.2,2.3,.1,.7,2,.04,1.05,1.95,.18,1.3,1.9,.12,.6,1.8,.06,.85,1.8,.1,1.15,1.7,.08,.9,1.5,.12,1.3,1.45,.06,1.1,1.35,.03];
const jMid=[1.15,.9,.1,1.15,1.15,.03,1.5,.8,.12,1.85,.9,.2,2.3,.65,.18,2.35,.55,.17,2.65,.7,.03,2.8,.4,.03,3.04,.14,.2,3.2,.48,.15,3.57,.36,.1,3.57,-.1,.14,4,.2,.1,4.15,-.38,.15,3.95,-.15,.22,4.53,-.15,.15,4.73,-.2,.42,4.53,.25,.1,4.83,.3,.03,4.83,-.38,.2];
const jDown=[4.92,-.9,.18,5,-1.1,.33,5.17,-1.5,.1,5.17,-2.3,.13,5.2,-2.5,.27,5,-2.9,.15,5.05,-3.2,.12,5.15,-3.4,.1,5,-3.6,.33,5,-4,.13,5.17,-4.15,.28,5.2,-4.45,.13,5.2,-4.7,.05];
const jArm=[5.1,.9,.1,5.4,1.15,.08,5.6,1.3,.2,5.6,1.55,-.005,5.9,1.85,.08,6.4,1.8,.12,6.3,2.2,.18,6,1.95,.05,6.55,2.75,.1,6.95,2.9,.1,7.15,2.65,.05];
const jRight=[7.8,4.3,-.03,8.2,4.2,.02,7.3,3.9,-.04,8.05,4,0,8.3,3.8,-.04,8.6,3.6,.05,7,3.65,.08,7.3,3.5,.16,7.7,3.6,.08,8.15,3.55,.2,8.5,3.3,.08,7.1,3.2,.13,7.6,3.3,.1,7.9,3.1,.06,8.3,3,.14,7.2,2.85,0,7.55,2.9,.12,7.85,2.8,.22,8.1,2.85,.2,8.4,2.85,.18,7.7,2.6,.22,7.9,2.5,.25,8,2.3,.22,8.1,2.55,.14];
const jMidBlob=[6,-1.5,.08,6.25,-1.6,.1,5.8,-1.8,.08,6.1,-1.85,.14,6.35,-1.7,.12,6.7,-1.9,.2,6.8,-2,.25,5.6,-2,.08,5.85,-2.2,.06,6.15,-2.05,.18,6.5,-2.1,.1,6.7,-2.2,.05,5.9,-2.45,.12,6.15,-2.4,.15,6.4,-2.5,.2,6.65,-2.65,.22,6.1,-2.65,.12,6.45,-2.7,.25];
const jBottom=[4.5,-4.9,.32,4.8,-4.85,.2,5.3,-4.8,.13,5.6,-4.9,.1,4.2,-5.1,.22,4.6,-5.1,.3,5,-5,.27,5.4,-5.05,.15,5.8,-5.1,.15,3.85,-5.25,.28,4.2,-5.4,.2,4.55,-5.4,.1,4.9,-5.3,.3,5.2,-5.35,.12,5.6,-5.3,.2,5.95,-5.3,.22,6,-5.5,.18,3.95,-5.55,.18,4.3,-5.65,.22,4.75,-5.65,.15,5.1,-5.55,.3,5.5,-5.5,.12,5.7,-5.65,.28,4.4,-5.9,.15,4.7,-5.95,.25,5,-5.85,.2,5.45,-5.85,.33,4.25,-6.05,.15,4.55,-6.15,.18,4.8,-6.2,.25,5.1,-6.1,.28,4.5,-6.35,.4,4.85,-6.45,.3,5.3,-6.35,.38,4.75,-6.6,.28,4.55,-6.7,.42,4.5,-6.8,.25];
const jTicks=[0,.1,.2,.3,.4];

// ===== helpers =====
const svg=d3.select("#c");
const FONT='"Liberation Sans",Arial,sans-serif';
function txt(x,y,s,o={}){
  const t=svg.append("text").attr("x",o.rot==null?x:0).attr("y",o.rot==null?y:0).text(s)
    .attr("font-size",o.size||20).attr("fill",o.fill||"#000").attr("text-anchor",o.anchor||"start")
    .attr("dominant-baseline",o.base||"central");
  if(o.rot!=null)t.attr("transform",`translate(${x},${y}) rotate(${o.rot})`);
  return t;
}
function rowsToPts(rows){return rows.flatMap(r=>r.slice(1).map(x=>({x,y:r[0]})));}
function triples(a){const o=[];for(let i=0;i<a.length;i+=3)o.push({x:a[i],y:a[i+1],v:a[i+2]});return o;}
function styleAxis(g,o){
  g.attr("font-family",FONT);g.select(".domain").remove();
  g.selectAll("text").attr("font-size",o.size).attr("fill",o.color||"#000");
  g.selectAll("line").attr("stroke",o.tickColor||"#000").attr("stroke-width",o.tickW||2);
  return g;
}
function axisB(s,y,vals,o){return styleAxis(svg.append("g").attr("transform",`translate(0,${y})`).call(d3.axisBottom(s).tickValues(vals).tickSize(o.tick==null?6:o.tick).tickPadding(o.pad==null?4:o.pad).tickFormat(o.fmt||(d=>String(d)))),o);}
function axisL(s,x,vals,o){return styleAxis(svg.append("g").attr("transform",`translate(${x},0)`).call(d3.axisLeft(s).tickValues(vals).tickSize(o.tick==null?6:o.tick).tickPadding(o.pad==null?4:o.pad).tickFormat(o.fmt||(d=>String(d)))),o);}
function hline(x1,x2,y,c,w){svg.append("line").attr("x1",x1).attr("x2",x2).attr("y1",y).attr("y2",y).attr("stroke",c).attr("stroke-width",w);}
function vline(x,y1,y2,c,w){svg.append("line").attr("x1",x).attr("x2",x).attr("y1",y1).attr("y2",y2).attr("stroke",c).attr("stroke-width",w);}
function dots(data,sx,sy,r,fill,op){svg.append("g").selectAll("circle").data(data).join("circle").attr("cx",d=>sx(d.x)).attr("cy",d=>sy(d.y)).attr("r",r).attr("fill",fill).attr("opacity",op==null?1:op);}
let gradN=0;
function gradientRect(x,y,w,h,scale,d0,d1,vertical){
  const id="g"+(gradN++);
  const gr=svg.append("defs").append("linearGradient").attr("id",id).attr("x1",0).attr("y1",vertical?1:0).attr("x2",vertical?0:1).attr("y2",0);
  d3.range(41).forEach(i=>{const t=i/40;gr.append("stop").attr("offset",t).attr("stop-color",scale(d0+(d1-d0)*t));});
  svg.append("rect").attr("x",x).attr("y",y).attr("width",w).attr("height",h).attr("fill",`url(#${id})`);
}
// panel letters
[["A",21,32],["B",830,32],["C",21,545],["D",603,545],["E",1259,545],["F",20,1055],["G",604,1055],["H",1260,1055],["I",20,1543],["J",1186,1543]]
 .forEach(([s,x,y])=>txt(x,y,s,{size:39,anchor:"middle",fill:"#2a1a14"}));

// ===== A =====
(function(){
  const sx=d3.scaleLinear().domain([0,10]).range([219,370]);
  const sy=d3.scaleLinear().domain([-10,5]).range([446,146]);
  [[aVCAN,2],[aIGKC,3],[aSPP1,0],[aCD1E,4],[aCXCL9,1],[aDNASE,5]].forEach(([r,i])=>dots(rowsToPts(r),sx,sy,3.9,macColors[i]));
  vline(97,50,450,"#000",4);hline(95,488,448,"#000",4);
  axisL(sy,95,[5,0,-5,-10],{size:27,tick:5,pad:5,tickW:3});
  axisB(sx,450,[0,10],{size:27,tick:5,pad:9,tickW:3});
  txt(286,32,"cell_type",{size:35.5,anchor:"middle",base:"alphabetic"});
  txt(19,250,"UMAP_2",{size:31.5,anchor:"middle",rot:-90});
  txt(291,511,"UMAP_1",{size:32,anchor:"middle"});
  macTypes.forEach((m,i)=>{const y=160+36*i;
    svg.append("circle").attr("cx",538).attr("cy",y).attr("r",10).attr("fill",macColors[i]);
    txt(572,y,m,{size:29});});
})();

// ===== B =====
(function(){
  const sx=d3.scalePoint().domain(bGenes).range([999,1642]);
  const sy=d3.scalePoint().domain(bRows).range([134,323]);
  const size=d3.scaleSqrt().domain([0,100]).range([3.5,15.5]);
  const col=d3.scaleLinear().domain([-1.45,-1,-.5,0,.4,1,2]).range(["#0868ac","#4279b6","#8aa7ce","#c9d6e8","#ffffff","#ecc4c4","#c45a5e"]).clamp(true);
  bGenes.forEach(g=>vline(sx(g),112,344,"#e6e6e6",3.5));
  bRows.forEach(r=>hline(978,1663,sy(r),"#e6e6e6",3.5));
  bRows.forEach((r,i)=>bGenes.forEach((g,j)=>{
    svg.append("circle").attr("cx",sx(g)).attr("cy",sy(r)).attr("r",size(bFraction[i][j])-1.2).attr("fill",col(bExpr[i][j])).attr("stroke","#000").attr("stroke-width",2.4);
  }));
  svg.append("rect").attr("x",976).attr("y",110).attr("width",689).attr("height",236).attr("fill","none").attr("stroke","#3c3f42").attr("stroke-width",5);
  bRows.forEach(r=>{hline(969,976,sy(r),"#3c3f42",3.5);txt(963,sy(r),r,{size:23,anchor:"end"});});
  bGenes.forEach(g=>{vline(sx(g),346,355,"#3c3f42",3.5);txt(sx(g)-11,360,g,{size:22,anchor:"end",rot:-90});});
  txt(1812,63,"Fraction of cells",{size:30,anchor:"middle"});
  txt(1819,97,"in group (%)",{size:30,anchor:"middle"});
  const lxPos=[1722,1760,1802,1846,1897];
  bSizeLegend.forEach((f,i)=>{
    svg.append("circle").attr("cx",lxPos[i]).attr("cy",143).attr("r",size(f)-1.2).attr("fill","#7f7f7f").attr("stroke","#000").attr("stroke-width",2.4);
    txt(lxPos[i],186,String(f),{size:24,anchor:"middle"});
  });
  txt(1838,272,"Mean expression",{size:30,anchor:"middle"});
  txt(1848,304,"in group",{size:30,anchor:"middle"});
  const cx=d3.scaleLinear().domain([-1,2]).range([1748,1972]);
  svg.append("rect").attr("x",1707).attr("y",331).attr("width",274).attr("height",41).attr("fill","#000");
  gradientRect(cx(-1.47),337,cx(2.05)-cx(-1.47),30,col,-1.47,2.05,false);
  bColorTicks.forEach(t=>{vline(cx(t),337,343,"#333",1.5);vline(cx(t),361,367,"#333",1.5);txt(cx(t),393,String(t),{size:24,anchor:"middle"});});
})();

// ===== C =====
(function(){
  const sx=d3.scaleBand().domain(hpvGroups).range([73,402]).paddingInner(.303).paddingOuter(0);
  const sy=d3.scaleLinear().domain([0,100]).range([926,573]);
  const stack=d3.stack().keys(d3.range(6)).value((d,k)=>cShares[k][d]).order(d3.stackOrderReverse)(d3.range(4));
  stack.forEach(layer=>{
    const k=layer.key;
    const poly=d3.area().x(d=>d.x).y0(d=>sy(d.y0)).y1(d=>sy(d.y1));
    for(let j=0;j<3;j++){
      const x0=sx(hpvGroups[j])+sx.bandwidth()-8,x1=sx(hpvGroups[j+1])+8;
      svg.append("path").attr("d",poly([{x:x0,y0:layer[j][0],y1:layer[j][1]},{x:x1,y0:layer[j+1][0],y1:layer[j+1][1]}])).attr("fill",flowColors[k]).attr("opacity",.32);
    }
  });
  stack.forEach(layer=>layer.forEach((d,j)=>{
    svg.append("rect").attr("x",sx(hpvGroups[j])).attr("width",sx.bandwidth()).attr("y",sy(d[1])).attr("height",sy(d[0])-sy(d[1])).attr("fill",macColors[layer.key]);
  }));
  svg.append("rect").attr("x",74).attr("y",573).attr("width",327).attr("height",353).attr("fill","none").attr("stroke","#3c3f42").attr("stroke-width",2.6);
  axisL(sy,73,[0,25,50,75,100],{size:14,tick:3,pad:3,tickW:2,tickColor:"#333",fmt:d=>d+"%"});
  axisB(sx,926,hpvGroups,{size:14.5,tick:4,pad:3,tickW:2,tickColor:"#333"});
  txt(14,749,"Cell percent ratio",{size:18.9,anchor:"middle",rot:-90});
  txt(421,688,"Cell Type",{size:18});
  macTypes.forEach((m,i)=>{const y=713+19.6*i;
    svg.append("rect").attr("x",421).attr("y",y-9.5).attr("width",19).attr("height",19).attr("fill",macColors[i]);
    txt(447,y,m,{size:14.8});});
})();

// ===== D =====
(function(){
  const sx=d3.scaleBand().domain(hpvGroups).range([618,839]);
  const sy=d3.scaleBand().domain(dRows).range([610,810]);
  const col=d3.scaleLinear().domain([0,.25,.5,.75,1,1.25,1.5,1.75,2]).range(["#47307c","#3f4a8a","#36618d","#1f768b","#0a8a85","#12a475","#5fb56a","#a9cc4f","#e8e03a"]);
  dRows.forEach((r,i)=>hpvGroups.forEach((g,j)=>{
    svg.append("rect").attr("x",sx(g)).attr("y",sy(r)).attr("width",sx.bandwidth()+.5).attr("height",sy.bandwidth()+.5).attr("fill",col(dValues[i][j]));
    if(dStars[i][j])txt(sx(g)+sx.bandwidth()/2,sy(r)+sy.bandwidth()/2+8,dStars[i][j],{size:26,anchor:"middle",base:"alphabetic"});
  }));
  dRows.forEach(r=>txt(849,sy(r)+sy.bandwidth()/2,r,{size:24}));
  hpvGroups.forEach(g=>txt(sx(g)+sx.bandwidth()/2,819,g,{size:24,rot:90}));
  const hx=d3.scaleLinear().domain([0,1]).range([618,552]);
  const draw=n=>{
    if(typeof n==="number")return {x:hx(0),y:sy(dRows[n])+sy.bandwidth()/2};
    const a=draw(n[1]),b=draw(n[2]),x=hx(n[0]);
    svg.append("path").attr("d",`M${a.x},${a.y}H${x}V${b.y}H${b.x}`).attr("fill","none").attr("stroke","#000").attr("stroke-width",2.6);
    return {x,y:(a.y+b.y)/2};
  };
  draw(dTree);
  const cy=d3.scaleLinear().domain([0,2]).range([956,610]);
  svg.append("g").selectAll("rect").data(d3.range(0,2,.04)).join("rect").attr("x",1050).attr("width",28)
    .attr("y",d=>cy(d+.04)).attr("height",cy(0)-cy(.04)+.1).attr("fill",d=>col(d+.02)).attr("opacity",.88);
  dTicks.forEach(t=>txt(1086,cy(t),String(t),{size:24}));
})();

// ===== E =====
(function(){
  const sx=d3.scaleLinear().domain([0,12]).range([1517,1941]);
  const sy=d3.scaleBand().domain(eTerms).range([643,935]);
  svg.append("rect").attr("x",1495).attr("y",640).attr("width",485).attr("height",296).attr("fill","none").attr("stroke","#bdbdbd").attr("stroke-width",1.5);
  eTerms.forEach((t,i)=>{
    svg.append("rect").attr("x",sx(0)+1.5).attr("y",sy(t)+sy.bandwidth()/2-7.5).attr("width",sx(eValues[i])-sx(0)-3).attr("height",15).attr("fill",eColors[eGroup[i]]).attr("stroke","#000").attr("stroke-width",3.4);
  });
  axisL(sy,1495,eTerms,{size:15.2,tick:4,pad:3,tickW:1.5,color:"#4d4d4d",tickColor:"#555",fmt:d=>d});
  axisB(sx,936,[0,4,8,12],{size:14.5,tick:4,pad:4,tickW:1.5,color:"#4d4d4d",tickColor:"#555"});
  txt(1738,973,"-log10(p.adjust)",{size:19.8,anchor:"middle"});
  txt(1506,597,"celltype",{size:19});
  const lx=[1581,1702,1821],ly=[581,611];
  eLegendOrder.forEach((g,i)=>{const c=Math.floor(i/2),r=i%2;
    svg.append("rect").attr("x",lx[c]+2).attr("y",ly[r]-9.5).attr("width",19).attr("height",19).attr("fill",eColors[g]).attr("stroke","#000").attr("stroke-width",3.6);
    txt(lx[c]+31,ly[r],g,{size:15.3});});
})();

// ===== F =====
(function(){
  const sx=d3.scalePoint().domain(macTypes).range([82.4,371.8]);
  const rowTop=[1111,1153,1195,1237,1279,1322,1363];
  const rows=[fGPNMB,fAPOE,fCCL18,fCCL5,fCCL4,fCHI3L1];
  txt(216,1092,"Expression of ERK1/ERK2 pathway key genes",{size:18,anchor:"middle"});
  const hwMax=26;
  rows.forEach((row,i)=>{
    const y0=rowTop[i+1]-1.5,H=rowTop[i+1]-rowTop[i]-2;
    row.forEach((v,j)=>{
      const cx=sx(macTypes[j]);
      if(v==null)return;
      if(typeof v==="number"){
        svg.append("line").attr("x1",cx).attr("x2",cx).attr("y1",y0).attr("y2",y0-v*H).attr("stroke","#3c3f42").attr("stroke-width",3.8);
      }else{
        const a=d3.area().y(d=>y0-d[0]*H).x0(d=>cx-d[1]*hwMax).x1(d=>cx+d[1]*hwMax).curve(d3.curveCatmullRom);
        svg.append("path").attr("d",a(v)).attr("fill",fColors[i]).attr("stroke","#3c3f42").attr("stroke-width",3.6).attr("stroke-linejoin","round");
      }
    });
    txt(435,[1131,1174,1216,1258,1301,1343][i],fGenes[i],{size:13.5,anchor:"middle"});
    txt(38,[1124,1167,1199,1243,1285,1335][i],fTickLabels[i],{size:9,anchor:"middle",fill:"#555"});
    svg.append("rect").attr("x",48).attr("y",rowTop[i]).attr("width",358).attr("height",rowTop[i+1]-rowTop[i]).attr("fill","none").attr("stroke","#000").attr("stroke-width",2.6);
  });
  svg.append("line").attr("x1",46.5).attr("x2",46.5).attr("y1",1109).attr("y2",1365).attr("stroke","#000").attr("stroke-width",3).attr("stroke-dasharray","3 3");
  macTypes.forEach(m=>{vline(sx(m),1363,1369,"#333",2);txt(sx(m)+6,1378,m,{size:14.6,anchor:"end",rot:-45});});
  txt(23,1237,"Expression Level",{size:16,anchor:"middle",rot:-90});
  txt(226.5,1463,"Identity",{size:16,anchor:"middle"});
  svg.append("rect").attr("x",479).attr("y",1185).attr("width",20).attr("height",105).attr("fill","#3c3f42");
  macTypes.forEach((m,i)=>{const y=1194+17.4*i;
    svg.append("rect").attr("x",482).attr("y",y-6.5).attr("width",14).attr("height",13).attr("fill",fColors[i]);
    txt(505,y,m,{size:13.8});});
})();

// ===== G =====
(function(){
  const sx=d3.scaleLinear().domain([-10,5]).range([777,991]);
  const sy=d3.scaleLinear().domain([-5,10]).range([1355,1083]);
  [[gN,2],[gCA,0],[gHSIL,1],[gNO,3]].forEach(([r,i])=>dots(rowsToPts(r),sx,sy,5.4,gColors[i]));
  vline(725,1073,1418,"#000",3.5);hline(723,1064,1416,"#000",3.5);
  axisL(sy,723,[10,5,0,-5],{size:20,tick:4,pad:4,tickW:2.5});
  axisB(sx,1418,[-10,-5,0,5],{size:20,tick:4,pad:5,tickW:2.5});
  gLabels.forEach(([s,x,y])=>txt(sx(x),sy(y),s,{size:18.4,anchor:"middle"}));
  txt(924,1048,"SPP1+mac",{size:27,anchor:"middle"});
  txt(672,1245,"UMAP_2",{size:23,anchor:"middle",rot:-90});
  txt(893,1461,"UMAP_1",{size:23,anchor:"middle"});
  hpvGroups.forEach((g,i)=>{const y=[1207,1232,1258,1284][i];
    svg.append("circle").attr("cx",1098).attr("cy",y).attr("r",7.5).attr("fill",gColors[i]);
    txt(1122,y,g,{size:20});});
})();

// ===== H =====
(function(){
  const sx=d3.scaleLinear().domain([-5,5]).range([1464,1788]);
  const sy=d3.scaleLinear().domain([-5,2.5]).range([1360,1192]);
  const col=d3.scaleLinear().domain([0,20]).range(["#0a2f4a","#4a9ad2"]);
  const line=d3.line().x(d=>sx(d[0])).y(d=>sy(d[1]));
  [hTreeMain,hTreeUp,hTreeDown,hTreeLow].forEach(t=>svg.append("path").attr("d",line(t)).attr("fill","none").attr("stroke","#000").attr("stroke-width",5).attr("stroke-linejoin","round"));
  [hBlobLeft,hTrailA,hTrailB,hTrailC,hBlobTop,hMid,hArm,hBlobRight,hDown,hBlobMid,hLow,hBlobBottom].forEach((r,i)=>dots(rowsToPts(r),sx,sy,3.3,col(hPseudotime[i])));
  vline(1352,1140,1411,"#222",2.2);hline(1351,1927,1410,"#222",2.2);
  axisL(sy,1351,[2.5,0,-2.5,-5],{size:19.5,tick:4,pad:3,tickW:2,color:"#4d4d4d",tickColor:"#333",fmt:d=>d.toFixed(1)});
  axisB(sx,1411,[-5,0,5],{size:19.5,tick:4,pad:3,tickW:2,color:"#4d4d4d",tickColor:"#333"});
  txt(1638,1451,"Component 1",{size:24,anchor:"middle"});
  txt(1291,1275,"Component 2",{size:24.4,anchor:"middle",rot:-90});
  txt(1634,1082,"Pseudotime",{size:24.8,anchor:"end"});
  const lx=d3.scaleLinear().domain([0,20]).range([1643,1772]);
  gradientRect(1642,1049,132,39,col,0,20,false);
  hLegendTicks.forEach(t=>{vline(lx(t),1049,1054,"#fff",1.2);vline(lx(t),1083,1088,"#fff",1.2);txt(lx(t),1104,String(t),{size:19.5,anchor:"middle"});});
})();

// ===== I =====
(function(){
  const sy=d3.scaleLinear().domain([-5,2.5]).range([1912,1740]);
  const ranges=[[159,272],[371,484],[583,696],[795,909]];
  const axisX=[[120,319],[332,531],[544,744],[756,956]];
  const sets=[iCA,iHSIL,iN,iNO];
  hpvGroups.forEach((g,i)=>{
    const sx=d3.scaleLinear().domain([-5,5]).range(ranges[i]);
    const line=d3.line().x(d=>sx(d[0])).y(d=>sy(d[1]));
    [iTreeArc,iTreeMid,iTreeUp].forEach(t=>svg.append("path").attr("d",line(t)).attr("fill","none").attr("stroke","#000").attr("stroke-width",4.5).attr("stroke-linejoin","round"));
    dots(rowsToPts(sets[i]),sx,sy,4,iColors[i]);
    iNodes.forEach(([n,x,y])=>{
      svg.append("circle").attr("cx",sx(x)).attr("cy",sy(y)).attr("r",13).attr("fill","#000");
      txt(sx(x),sy(y),String(n),{size:22,anchor:"middle",fill:"#fff"});
    });
    hline(axisX[i][0],axisX[i][1],1964,"#000",2.6);
    axisB(sx,1965,[-5,0,5],{size:28,tick:5,pad:3,tickW:2,color:"#4d4d4d",tickColor:"#333"});
    txt((axisX[i][0]+axisX[i][1])/2,1664,g,{size:28,anchor:"middle",fill:"#222"});
  });
  vline(120,1688,1965,"#222",2.2);
  axisL(sy,119,[2.5,0,-2.5,-5],{size:28,tick:5,pad:2,tickW:2,color:"#4d4d4d",tickColor:"#333",fmt:d=>d.toFixed(1)});
  txt(484,1613,"SPP1+ mac",{size:42.5,anchor:"middle"});
  txt(32,1827,"Component 2",{size:35.5,anchor:"middle",rot:-90});
  txt(537,2023,"Component 1",{size:35.3,anchor:"middle"});
})();

// ===== J =====
(function(){
  const sx=d3.scaleLinear().domain([-5,5]).range([1348,1639]);
  const sy=d3.scaleLinear().domain([-5,2.5]).range([1902,1682]);
  const col=d3.scaleLinear().domain([-.09,0,.45]).range(["#e0c8c3","#ffffff","#44509c"]);
  const data=[jLeft,jTrail,jTop,jMid,jDown,jArm,jRight,jMidBlob,jBottom].flatMap(triples);
  svg.append("g").selectAll("circle").data(data).join("circle").attr("cx",d=>sx(d.x)).attr("cy",d=>sy(d.y)).attr("r",7).attr("fill",d=>col(d.v+.04)).attr("opacity",.92);
  svg.append("rect").attr("x",1248).attr("y",1615).attr("width",516).attr("height",352).attr("fill","none").attr("stroke","#3c3f42").attr("stroke-width",5);
  axisL(sy,1246,[2.5,0,-2.5,-5],{size:26,tick:5,pad:3,tickW:3.5,color:"#4d4d4d",tickColor:"#3c3f42",fmt:d=>d.toFixed(1)});
  axisB(sx,1969,[-5,0,5],{size:26,tick:5,pad:6,tickW:3.5,color:"#4d4d4d",tickColor:"#3c3f42"});
  txt(1506,1573,"Hallmark inflammation pathway",{size:40.8,anchor:"middle"});
  txt(1503,2033,"component1",{size:34.5,anchor:"middle"});
  txt(1155,1792,"component2",{size:34.5,anchor:"middle",rot:-90});
  txt(1796,1677,"inflammation",{size:34.5});
  const ly=d3.scaleLinear().domain([0,.4]).range([1889,1732]);
  gradientRect(1797,1711,43,213,col,-.09,.454,true);
  jTicks.forEach(t=>{hline(1797,1805,ly(t),"#fff",1.5);hline(1832,1840,ly(t),"#fff",1.5);txt(1857,ly(t),t.toFixed(1),{size:26});});
})();
</script></body></html>
